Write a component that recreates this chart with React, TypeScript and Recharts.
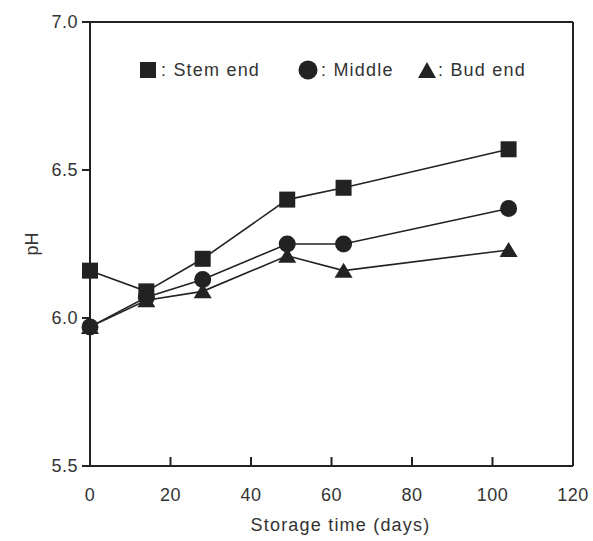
import { LineChart, Line, XAxis, YAxis, ReferenceLine } from 'recharts';

const days = [0, 14, 28, 49, 63, 104];
const stemEnd = [6.16, 6.09, 6.2, 6.4, 6.44, 6.57];
const middle = [5.97, 6.07, 6.13, 6.25, 6.25, 6.37];
const budEnd = [5.97, 6.06, 6.09, 6.21, 6.16, 6.23];

const xTicks = [0, 20, 40, 60, 80, 100, 120];
const yTicks = [5.5, 6.0, 6.5, 7.0];

const data = days.map((d, i) => ({
  day: d,
  stem: stemEnd[i],
  middle: middle[i],
  bud: budEnd[i],
}));

const INK = '#222';
const FONT = 'Arial, "Liberation Sans", sans-serif';

const SquareDot = (p: any) => (
  <rect key={`s${p.index}`} x={p.cx - 8} y={p.cy - 8} width={16} height={16} fill={INK} />
);
const CircleDot = (p: any) => <circle key={`c${p.index}`} cx={p.cx} cy={p.cy} r={8.5} fill={INK} />;
const TriDot = (p: any) => (
  <polygon
    key={`t${p.index}`}
    points={`${p.cx},${p.cy - 8} ${p.cx + 9},${p.cy + 7} ${p.cx - 9},${p.cy + 7}`}
    fill={INK}
  />
);

const txt: any = { position: 'absolute', fontSize: 18, letterSpacing: 1.2, color: '#333', fontFamily: FONT, lineHeight: '20px', whiteSpace: 'nowrap' };

function LegendBox() {
  return (
    <>
      <svg style={{ position: 'absolute', left: 139, top: 61 }} width={18} height={18}>
        <rect x={1} y={1} width={16} height={16} fill={INK} />
      </svg>
      <span style={{ ...txt, left: 161, top: 60 }}>: Stem end</span>
      <svg style={{ position: 'absolute', left: 298, top: 60 }} width={20} height={20}>
        <circle cx={10} cy={10} r={9.5} fill={INK} />
      </svg>
      <span style={{ ...txt, left: 321, top: 60 }}>: Middle</span>
      <svg style={{ position: 'absolute', left: 417, top: 61 }} width={20} height={18}>
        <polygon points="10,1 19,17 1,17" fill={INK} />
      </svg>
      <span style={{ ...txt, left: 438, top: 60 }}>: Bud end</span>
    </>
  );
}

export default function App() {
  const tick = { fontSize: 18, fill: '#333', fontFamily: FONT, letterSpacing: 0.5 };
  return (
    <div style={{ position: 'absolute', left: 0, top: 0, width: 593, height: 541, background: '#fff' }}>
      <LineChart width={593} height={541} data={data} margin={{ top: 22, right: 20, bottom: 0, left: 30 }}>
        <XAxis
          dataKey="day"
          type="number"
          domain={[0, 120]}
          ticks={xTicks}
          tick={tick}
          tickSize={-9}
          tickMargin={31}
          stroke={INK}
          strokeWidth={2}
          height={75}
          label={{ value: 'Storage time (days)', position: 'insideBottom', offset: 10, dx: 9, style: { ...tick, letterSpacing: 1.2 } }}
        />
        <YAxis
          type="number"
          domain={[5.5, 7.0]}
          ticks={yTicks}
          tickFormatter={(v) => v.toFixed(1)}
          tick={tick}
          tickSize={8}
          tickMargin={4}
          stroke={INK}
          strokeWidth={2}
          width={60}
        />
        <ReferenceLine y={7.0} stroke={INK} strokeWidth={2} />
        <ReferenceLine x={120} stroke={INK} strokeWidth={2} />
        <Line dataKey="stem" stroke={INK} strokeWidth={1.6} dot={SquareDot} isAnimationActive={false} />
        <Line dataKey="middle" stroke={INK} strokeWidth={1.6} dot={CircleDot} isAnimationActive={false} />
        <Line dataKey="bud" stroke={INK} strokeWidth={1.6} dot={TriDot} isAnimationActive={false} />
      </LineChart>
      <div
        style={{
          position: 'absolute', left: 20, top: 234, width: 24, height: 20, textAlign: 'center',
          transform: 'rotate(-90deg)', fontSize: 18, color: '#333', fontFamily: FONT, lineHeight: '20px',
        }}
      >
        pH
      </div>
      <LegendBox />
    </div>
  );
}
